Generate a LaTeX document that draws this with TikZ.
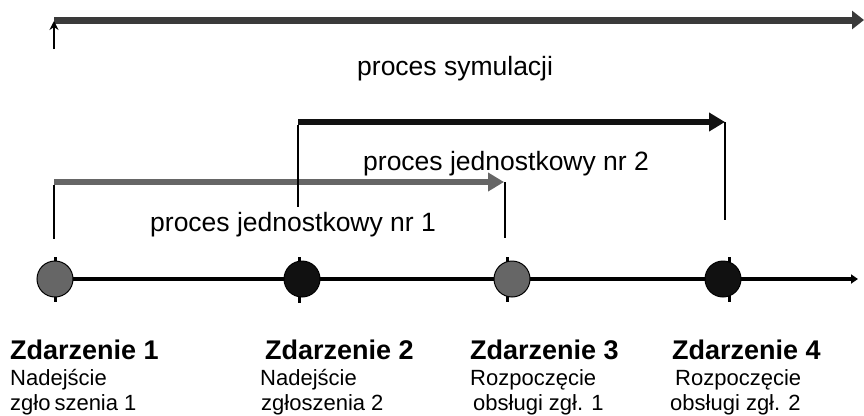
\documentclass[tikz,border=0pt]{standalone}
\usepackage{fontspec}
\setmainfont{Liberation Sans}
\usetikzlibrary{arrows.meta}
\definecolor{simgray}{RGB}{58,58,58}
\definecolor{procgray}{RGB}{102,102,102}
\definecolor{procblack}{RGB}{17,17,17}
\begin{document}
\begin{tikzpicture}[x=1pt,y=-1pt,
  bigarrow/.style={line width=6pt,-{Triangle[length=16pt,width=18pt]}},
  guide/.style={line width=1.4pt,black},
  tickmark/.style={line width=3pt,black},
  evt/.style={circle,draw=black,line width=1pt,minimum size=36pt,inner sep=0pt},
  proclbl/.style={anchor=base west,inner sep=0pt,font=\fontsize{26.5}{32}\selectfont},
  evthead/.style={anchor=base west,inner sep=0pt,font=\bfseries\fontsize{27}{32}\selectfont},
  evttext/.style={anchor=base west,inner sep=0pt,font=\fontsize{22}{26}\selectfont}]
\useasboundingbox (0,0) rectangle (864,415);

% simulation process
\coordinate (s0) at (54,20);
\coordinate (s1) at (864,20);
\draw[simgray,line width=7pt,-{Triangle[length=12pt,width=18pt]}] (s0) -- (s1);
\coordinate (u0) at (54,49);
\coordinate (u1) at (54,21);
\draw[line width=2.2pt,-{Stealth[length=9pt,width=9pt]}] (u0) -- (u1);
\node[proclbl] (lsim) at (357,75) {proces symulacji};

% unit process no. 2
\coordinate (p2s) at (298,122);
\coordinate (p2e) at (725,122);
\coordinate (p2a) at (298,207);
\coordinate (p2b) at (725,220);
\draw[procblack,bigarrow] (p2s) -- (p2e);

% unit process no. 1
\coordinate (p1s) at (54,182);
\coordinate (p1e) at (504,182);
\coordinate (p1c) at (505,182);
\coordinate (p1a) at (54,239);
\coordinate (p1b) at (505,238);
\draw[procgray,bigarrow] (p1s) -- (p1e);

\draw[guide] ([yshift=-3pt]p2s) -- (p2a);
\draw[guide] (p2e) -- (p2b);
\draw[guide] ([yshift=-3pt]p1s) -- (p1a);
\draw[guide] (p1c) -- (p1b);

\node[proclbl] (lp2) at (363,170) {proces jednostkowy nr 2};
\node[proclbl] (lp1) at (150,231) {proces jednostkowy nr 1};

% time axis with events
\coordinate (t0) at (54,279);
\coordinate (t1) at (858,279);
\draw[line width=3.5pt,-{Triangle[length=7pt,width=9pt]}] (t0) -- (t1);

\draw[tickmark] (55,257) -- (55,302);
\draw[tickmark] (299,257) -- (299,303);
\draw[tickmark] (507,257) -- (507,302);
\draw[tickmark] (729,257) -- (729,302);

\node[evt,fill=procgray]  (e1) at (55,279) {};
\node[evt,fill=procblack] (e2) at (302,279) {};
\node[evt,fill=procgray]  (e3) at (512,279) {};
\node[evt,fill=procblack] (e4) at (723,279) {};

% event descriptions
\node[evthead] (h1) at (10,359) {Zdarzenie 1};
\node[evttext] (a1) at (10,385) {Nadejście};
\node[evttext] (b1) at (10,410) {zgło\hspace{4pt}szenia 1};

\node[evthead] (h2) at (265,359) {Zdarzenie 2};
\node[evttext] (a2) at (260,385) {Nadejście};
\node[evttext] (b2) at (261,410) {zgłoszenia 2};

\node[evthead] (h3) at (470,359) {Zdarzenie 3};
\node[evttext] (a3) at (470,385) {Rozpoczęcie};
\node[evttext] (b3) at (473,410) {obsługi zgł. 1};

\node[evthead] (h4) at (672,359) {Zdarzenie 4};
\node[evttext] (a4) at (675,385) {Rozpoczęcie};
\node[evttext] (b4) at (670,410) {obsługi zgł. 2};
\end{tikzpicture}
\end{document}
